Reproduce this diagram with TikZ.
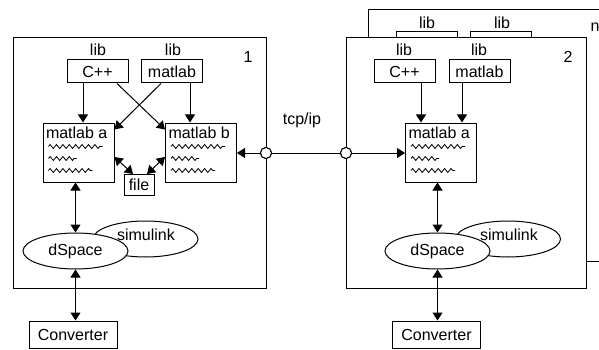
\documentclass[tikz,border=0pt]{standalone}
\usepackage{fontspec}
\setmainfont{Liberation Sans}
\usetikzlibrary{arrows.meta,shapes.geometric,decorations.pathmorphing,calc}
\begin{document}
\begin{tikzpicture}[x=1pt,y=-1pt, line width=1pt, font=\fontsize{16}{18}\selectfont,
 box/.style={draw, fill=white, inner sep=0pt},
 libbox/.style={box, minimum width=61pt, minimum height=23pt},
 procbox/.style={box, minimum width=71pt, minimum height=59pt},
 convbox/.style={box, minimum width=88pt, minimum height=27pt},
 ellnode/.style={draw, fill=white, ellipse, inner sep=0pt, minimum width=105pt, minimum height=36pt},
 ar/.style={-{Triangle[length=8pt,width=10pt]}},
 dar/.style={{Triangle[length=8pt,width=10pt]}-{Triangle[length=8pt,width=10pt]}},
 wave/.style={decorate, decoration={zigzag, segment length=6.4pt, amplitude=2pt}, line width=0.8pt},
 port/.style={draw, fill=white, circle, inner sep=0pt, minimum size=11pt},
 txt/.style={inner sep=0pt}]
\useasboundingbox (0,0) rectangle (599,350);
% back machine n
\begin{scope}
\clip (0,0) rectangle (599,350);
\draw[fill=white] (368,10) rectangle (612,261);
\node[txt] (ln) at (595,27) {n};
\end{scope}
\node[libbox] (bl1) at (426.5,43.5) {};
\node[libbox] (bl2) at (501,43.5) {};
\node[txt] (blt1) at (427,23) {lib};
\node[txt] (blt2) at (502,23) {lib};
% machine boxes
\draw[fill=white] (13,38) rectangle (266,288);
\draw[fill=white] (346,38) rectangle (586,288);
\node[txt] (l1) at (248,57) {1};
\node[txt] (l2) at (568,57) {2};
% machine 1
\node[txt] (lt1) at (98,50) {lib};
\node[txt] (lt2) at (173,50) {lib};
\node[libbox] (cpp1) at (97.5,71.5) {C++};
\node[libbox] (mat1) at (172,71.5) {matlab};
\node[procbox, label={[txt, anchor=north west, xshift=3pt, yshift=-4pt]north west:matlab a}] (ma1) at (78.5,152.5) {};
\node[procbox, label={[txt, anchor=north west, xshift=3pt, yshift=-4pt]north west:matlab b}] (mb1) at (201,152.5) {};
\node[box, minimum width=30pt, minimum height=21pt] (file) at (139,185) {file};
\node[ellnode] (sim1) at (145.5,239) {};
\node[txt] (sim1t) at (146,235) {simulink};
\node[ellnode] (ds1) at (75.5,251) {dSpace};
\node[convbox] (conv1) at (73,334.5) {Converter};
% machine 2
\node[txt] (lt3) at (404,50) {lib};
\node[txt] (lt4) at (479,50) {lib};
\node[libbox] (cpp2) at (404.5,71.5) {C++};
\node[libbox] (mat2) at (479.5,71.5) {matlab};
\node[procbox, label={[txt, anchor=north west, xshift=3pt, yshift=-4pt]north west:matlab a}] (ma2) at (441,152.5) {};
\node[ellnode] (sim2) at (508,239) {};
\node[txt] (sim2t) at (509,235) {simulink};
\node[ellnode] (ds2) at (437.5,251) {dSpace};
\node[convbox] (conv2) at (436.5,334.5) {Converter};
% waves
\foreach \b in {ma1,mb1,ma2}{
  \draw[wave] ($(\b.north west)+(6,24)$) -- ++(54,0);
  \draw[wave] ($(\b.north west)+(6,36)$) -- ++(28,0);
  \draw[wave] ($(\b.north west)+(6,48)$) -- ++(44,0);
}
% ports
\node[port] (p1) at (266,153) {};
\node[port] (p2) at (346,153) {};
\node[txt] (tcp) at (302,120) {tcp/ip};
% connectors machine 1
\draw[ar] (cpp1.south -| 83,0) -- (ma1.north -| 83,0);
\draw[ar] (mat1.south -| 190,0) -- (mb1.north -| 190,0);
\draw[ar] ([xshift=19.5pt]cpp1.south) -- ([yshift=-7pt]mb1.north west);
\draw[ar] ([xshift=-11pt]mat1.south) -- ([yshift=-7pt]ma1.north east);
\draw[dar] ([xshift=-6pt]file.north) -- ([yshift=-4.5pt]ma1.east);
\draw[dar] ([xshift=8pt]file.north) -- ([yshift=-4.5pt]mb1.west);
\draw[dar] (ma1.south -| ds1.north) -- (ds1.north);
\draw[dar] (ds1.south) -- (ds1.south |- conv1.north);
% connectors machine 2
\draw[ar] (cpp2.south -| 421,0) -- (ma2.north -| 421,0);
\draw[ar] (mat2.south -| 462,0) -- (ma2.north -| 462,0);
\draw[dar] (ma2.south -| ds2.north) -- (ds2.north);
\draw[dar] (ds2.south) -- (ds2.south |- conv2.north);
% network
\draw (p1) -- (p2);
\draw[ar] (p1) -- (mb1.east |- p1);
\draw[ar] (p2) -- (ma2.west |- p2);
\node[port] at (p1) {};
\node[port] at (p2) {};
\end{tikzpicture}
\end{document}
